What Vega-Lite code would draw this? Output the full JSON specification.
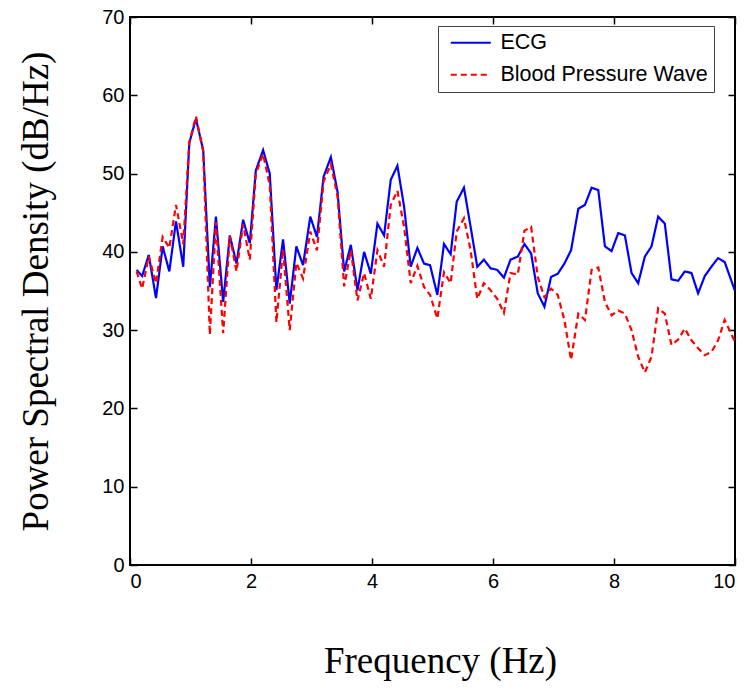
{
  "$schema": "https://vega.github.io/schema/vega-lite/v6.json",
  "width": 605,
  "height": 548,
  "autosize": {"type": "none"},
  "padding": {"left": 130, "top": 17, "right": 12, "bottom": 125},
  "background": "white",
  "config": {
    "view": {"stroke": "black", "strokeWidth": 2},
    "axis": {
      "grid": false,
      "domain": false,
      "ticks": true,
      "tickColor": "black",
      "tickWidth": 1.5,
      "tickSize": -7,
      "labelFont": "Liberation Sans",
      "labelFontSize": 20,
      "labelColor": "black",
      "titleFont": "Liberation Serif",
      "titleFontSize": 37,
      "titleFontWeight": "normal",
      "titleColor": "black"
    }
  },
  "datasets": {
    "psd": [
      {"f": 0.11, "db": 37.7, "series": "ECG"},
      {"f": 0.20, "db": 36.9, "series": "ECG"},
      {"f": 0.31, "db": 39.6, "series": "ECG"},
      {"f": 0.43, "db": 34.1, "series": "ECG"},
      {"f": 0.54, "db": 40.7, "series": "ECG"},
      {"f": 0.65, "db": 37.5, "series": "ECG"},
      {"f": 0.76, "db": 43.9, "series": "ECG"},
      {"f": 0.88, "db": 38.1, "series": "ECG"},
      {"f": 0.98, "db": 53.9, "series": "ECG"},
      {"f": 1.09, "db": 57.0, "series": "ECG"},
      {"f": 1.21, "db": 53.0, "series": "ECG"},
      {"f": 1.32, "db": 35.5, "series": "ECG"},
      {"f": 1.42, "db": 44.5, "series": "ECG"},
      {"f": 1.54, "db": 33.6, "series": "ECG"},
      {"f": 1.65, "db": 42.1, "series": "ECG"},
      {"f": 1.76, "db": 38.5, "series": "ECG"},
      {"f": 1.87, "db": 44.1, "series": "ECG"},
      {"f": 1.98, "db": 41.1, "series": "ECG"},
      {"f": 2.08, "db": 50.4, "series": "ECG"},
      {"f": 2.20, "db": 53.0, "series": "ECG"},
      {"f": 2.31, "db": 50.0, "series": "ECG"},
      {"f": 2.42, "db": 35.1, "series": "ECG"},
      {"f": 2.53, "db": 41.6, "series": "ECG"},
      {"f": 2.64, "db": 33.4, "series": "ECG"},
      {"f": 2.75, "db": 40.7, "series": "ECG"},
      {"f": 2.86, "db": 38.3, "series": "ECG"},
      {"f": 2.98, "db": 44.5, "series": "ECG"},
      {"f": 3.09, "db": 41.9, "series": "ECG"},
      {"f": 3.20, "db": 49.6, "series": "ECG"},
      {"f": 3.32, "db": 52.1, "series": "ECG"},
      {"f": 3.43, "db": 47.7, "series": "ECG"},
      {"f": 3.54, "db": 37.5, "series": "ECG"},
      {"f": 3.65, "db": 40.9, "series": "ECG"},
      {"f": 3.76, "db": 35.1, "series": "ECG"},
      {"f": 3.87, "db": 40.0, "series": "ECG"},
      {"f": 3.98, "db": 37.2, "series": "ECG"},
      {"f": 4.09, "db": 43.6, "series": "ECG"},
      {"f": 4.20, "db": 42.1, "series": "ECG"},
      {"f": 4.31, "db": 49.2, "series": "ECG"},
      {"f": 4.42, "db": 51.0, "series": "ECG"},
      {"f": 4.53, "db": 45.8, "series": "ECG"},
      {"f": 4.64, "db": 38.1, "series": "ECG"},
      {"f": 4.75, "db": 40.5, "series": "ECG"},
      {"f": 4.86, "db": 38.5, "series": "ECG"},
      {"f": 4.96, "db": 38.3, "series": "ECG"},
      {"f": 5.08, "db": 34.5, "series": "ECG"},
      {"f": 5.19, "db": 41.0, "series": "ECG"},
      {"f": 5.30, "db": 39.7, "series": "ECG"},
      {"f": 5.40, "db": 46.4, "series": "ECG"},
      {"f": 5.52, "db": 48.2, "series": "ECG"},
      {"f": 5.63, "db": 43.2, "series": "ECG"},
      {"f": 5.74, "db": 38.1, "series": "ECG"},
      {"f": 5.85, "db": 39.0, "series": "ECG"},
      {"f": 5.96, "db": 37.9, "series": "ECG"},
      {"f": 6.07, "db": 37.7, "series": "ECG"},
      {"f": 6.18, "db": 36.7, "series": "ECG"},
      {"f": 6.29, "db": 39.0, "series": "ECG"},
      {"f": 6.41, "db": 39.4, "series": "ECG"},
      {"f": 6.52, "db": 41.0, "series": "ECG"},
      {"f": 6.63, "db": 39.8, "series": "ECG"},
      {"f": 6.74, "db": 34.7, "series": "ECG"},
      {"f": 6.85, "db": 33.0, "series": "ECG"},
      {"f": 6.96, "db": 36.8, "series": "ECG"},
      {"f": 7.07, "db": 37.2, "series": "ECG"},
      {"f": 7.18, "db": 38.5, "series": "ECG"},
      {"f": 7.29, "db": 40.2, "series": "ECG"},
      {"f": 7.41, "db": 45.5, "series": "ECG"},
      {"f": 7.52, "db": 46.0, "series": "ECG"},
      {"f": 7.63, "db": 48.2, "series": "ECG"},
      {"f": 7.74, "db": 47.9, "series": "ECG"},
      {"f": 7.85, "db": 40.7, "series": "ECG"},
      {"f": 7.96, "db": 40.1, "series": "ECG"},
      {"f": 8.07, "db": 42.4, "series": "ECG"},
      {"f": 8.18, "db": 42.1, "series": "ECG"},
      {"f": 8.29, "db": 37.3, "series": "ECG"},
      {"f": 8.40, "db": 36.0, "series": "ECG"},
      {"f": 8.51, "db": 39.4, "series": "ECG"},
      {"f": 8.62, "db": 40.7, "series": "ECG"},
      {"f": 8.73, "db": 44.5, "series": "ECG"},
      {"f": 8.84, "db": 43.6, "series": "ECG"},
      {"f": 8.95, "db": 36.5, "series": "ECG"},
      {"f": 9.06, "db": 36.3, "series": "ECG"},
      {"f": 9.17, "db": 37.5, "series": "ECG"},
      {"f": 9.28, "db": 37.3, "series": "ECG"},
      {"f": 9.39, "db": 34.7, "series": "ECG"},
      {"f": 9.50, "db": 36.9, "series": "ECG"},
      {"f": 9.61, "db": 38.1, "series": "ECG"},
      {"f": 9.72, "db": 39.2, "series": "ECG"},
      {"f": 9.83, "db": 38.7, "series": "ECG"},
      {"f": 10.0, "db": 35.0, "series": "ECG"},
      {"f": 0.11, "db": 37.5, "series": "Blood Pressure Wave"},
      {"f": 0.20, "db": 35.3, "series": "Blood Pressure Wave"},
      {"f": 0.31, "db": 39.4, "series": "Blood Pressure Wave"},
      {"f": 0.43, "db": 36.0, "series": "Blood Pressure Wave"},
      {"f": 0.54, "db": 41.9, "series": "Blood Pressure Wave"},
      {"f": 0.65, "db": 40.5, "series": "Blood Pressure Wave"},
      {"f": 0.76, "db": 46.0, "series": "Blood Pressure Wave"},
      {"f": 0.88, "db": 41.0, "series": "Blood Pressure Wave"},
      {"f": 0.98, "db": 54.0, "series": "Blood Pressure Wave"},
      {"f": 1.09, "db": 57.3, "series": "Blood Pressure Wave"},
      {"f": 1.21, "db": 52.8, "series": "Blood Pressure Wave"},
      {"f": 1.32, "db": 29.4, "series": "Blood Pressure Wave"},
      {"f": 1.42, "db": 43.8, "series": "Blood Pressure Wave"},
      {"f": 1.54, "db": 29.6, "series": "Blood Pressure Wave"},
      {"f": 1.65, "db": 42.0, "series": "Blood Pressure Wave"},
      {"f": 1.76, "db": 37.5, "series": "Blood Pressure Wave"},
      {"f": 1.87, "db": 43.5, "series": "Blood Pressure Wave"},
      {"f": 1.98, "db": 39.0, "series": "Blood Pressure Wave"},
      {"f": 2.08, "db": 50.0, "series": "Blood Pressure Wave"},
      {"f": 2.20, "db": 52.5, "series": "Blood Pressure Wave"},
      {"f": 2.31, "db": 48.5, "series": "Blood Pressure Wave"},
      {"f": 2.42, "db": 31.0, "series": "Blood Pressure Wave"},
      {"f": 2.53, "db": 40.3, "series": "Blood Pressure Wave"},
      {"f": 2.64, "db": 30.0, "series": "Blood Pressure Wave"},
      {"f": 2.75, "db": 38.6, "series": "Blood Pressure Wave"},
      {"f": 2.86, "db": 36.6, "series": "Blood Pressure Wave"},
      {"f": 2.98, "db": 42.6, "series": "Blood Pressure Wave"},
      {"f": 3.09, "db": 40.2, "series": "Blood Pressure Wave"},
      {"f": 3.20, "db": 49.0, "series": "Blood Pressure Wave"},
      {"f": 3.32, "db": 51.2, "series": "Blood Pressure Wave"},
      {"f": 3.43, "db": 47.1, "series": "Blood Pressure Wave"},
      {"f": 3.54, "db": 35.6, "series": "Blood Pressure Wave"},
      {"f": 3.65, "db": 40.2, "series": "Blood Pressure Wave"},
      {"f": 3.76, "db": 33.8, "series": "Blood Pressure Wave"},
      {"f": 3.87, "db": 37.3, "series": "Blood Pressure Wave"},
      {"f": 3.98, "db": 34.0, "series": "Blood Pressure Wave"},
      {"f": 4.09, "db": 40.2, "series": "Blood Pressure Wave"},
      {"f": 4.20, "db": 38.1, "series": "Blood Pressure Wave"},
      {"f": 4.31, "db": 46.0, "series": "Blood Pressure Wave"},
      {"f": 4.42, "db": 47.8, "series": "Blood Pressure Wave"},
      {"f": 4.53, "db": 43.2, "series": "Blood Pressure Wave"},
      {"f": 4.64, "db": 36.0, "series": "Blood Pressure Wave"},
      {"f": 4.75, "db": 38.2, "series": "Blood Pressure Wave"},
      {"f": 4.86, "db": 35.5, "series": "Blood Pressure Wave"},
      {"f": 4.96, "db": 34.5, "series": "Blood Pressure Wave"},
      {"f": 5.08, "db": 31.5, "series": "Blood Pressure Wave"},
      {"f": 5.19, "db": 37.4, "series": "Blood Pressure Wave"},
      {"f": 5.30, "db": 36.0, "series": "Blood Pressure Wave"},
      {"f": 5.40, "db": 42.6, "series": "Blood Pressure Wave"},
      {"f": 5.52, "db": 44.3, "series": "Blood Pressure Wave"},
      {"f": 5.63, "db": 40.2, "series": "Blood Pressure Wave"},
      {"f": 5.74, "db": 34.0, "series": "Blood Pressure Wave"},
      {"f": 5.85, "db": 36.0, "series": "Blood Pressure Wave"},
      {"f": 5.96, "db": 35.1, "series": "Blood Pressure Wave"},
      {"f": 6.07, "db": 34.0, "series": "Blood Pressure Wave"},
      {"f": 6.18, "db": 32.2, "series": "Blood Pressure Wave"},
      {"f": 6.29, "db": 37.3, "series": "Blood Pressure Wave"},
      {"f": 6.41, "db": 37.1, "series": "Blood Pressure Wave"},
      {"f": 6.52, "db": 42.7, "series": "Blood Pressure Wave"},
      {"f": 6.63, "db": 43.2, "series": "Blood Pressure Wave"},
      {"f": 6.74, "db": 36.8, "series": "Blood Pressure Wave"},
      {"f": 6.85, "db": 34.2, "series": "Blood Pressure Wave"},
      {"f": 6.96, "db": 35.3, "series": "Blood Pressure Wave"},
      {"f": 7.07, "db": 34.5, "series": "Blood Pressure Wave"},
      {"f": 7.18, "db": 31.3, "series": "Blood Pressure Wave"},
      {"f": 7.29, "db": 26.2, "series": "Blood Pressure Wave"},
      {"f": 7.41, "db": 32.1, "series": "Blood Pressure Wave"},
      {"f": 7.52, "db": 31.3, "series": "Blood Pressure Wave"},
      {"f": 7.63, "db": 37.7, "series": "Blood Pressure Wave"},
      {"f": 7.74, "db": 38.0, "series": "Blood Pressure Wave"},
      {"f": 7.85, "db": 33.6, "series": "Blood Pressure Wave"},
      {"f": 7.96, "db": 31.9, "series": "Blood Pressure Wave"},
      {"f": 8.07, "db": 32.5, "series": "Blood Pressure Wave"},
      {"f": 8.18, "db": 32.1, "series": "Blood Pressure Wave"},
      {"f": 8.29, "db": 30.0, "series": "Blood Pressure Wave"},
      {"f": 8.40, "db": 26.6, "series": "Blood Pressure Wave"},
      {"f": 8.51, "db": 24.6, "series": "Blood Pressure Wave"},
      {"f": 8.62, "db": 26.6, "series": "Blood Pressure Wave"},
      {"f": 8.73, "db": 32.8, "series": "Blood Pressure Wave"},
      {"f": 8.84, "db": 32.1, "series": "Blood Pressure Wave"},
      {"f": 8.95, "db": 28.1, "series": "Blood Pressure Wave"},
      {"f": 9.06, "db": 28.8, "series": "Blood Pressure Wave"},
      {"f": 9.17, "db": 30.2, "series": "Blood Pressure Wave"},
      {"f": 9.28, "db": 28.7, "series": "Blood Pressure Wave"},
      {"f": 9.39, "db": 27.7, "series": "Blood Pressure Wave"},
      {"f": 9.50, "db": 26.8, "series": "Blood Pressure Wave"},
      {"f": 9.61, "db": 27.2, "series": "Blood Pressure Wave"},
      {"f": 9.72, "db": 28.7, "series": "Blood Pressure Wave"},
      {"f": 9.83, "db": 31.3, "series": "Blood Pressure Wave"},
      {"f": 10.0, "db": 28.5, "series": "Blood Pressure Wave"}
    ]
  },
  "data": {"name": "psd"},
  "layer": [
    {
      "mark": {"type": "line", "strokeWidth": 2.2, "clip": true},
      "encoding": {
        "x": {
          "field": "f", "type": "quantitative",
          "scale": {"domain": [0, 10], "nice": false},
          "axis": {"values": [0, 2, 4, 6, 8, 10], "title": "Frequency (Hz)", "labelPadding": 13, "titlePadding": 52, "titleX": 310}
        },
        "y": {
          "field": "db", "type": "quantitative",
          "scale": {"domain": [0, 70], "nice": false},
          "axis": {"values": [0, 10, 20, 30, 40, 50, 60, 70], "title": "Power Spectral Density (dB/Hz)", "labelPadding": 13, "titlePadding": 46}
        },
        "color": {
          "field": "series", "type": "nominal",
          "scale": {"domain": ["ECG", "Blood Pressure Wave"], "range": ["#0000ff", "#ff0000"]},
          "legend": {
            "title": null,
            "orient": "none",
            "legendX": 308,
            "legendY": 9,
            "strokeColor": "#444",
            "fillColor": "white",
            "padding": 6,
            "labelFont": "Liberation Sans",
            "labelFontSize": 21.5,
            "labelColor": "black",
            "symbolType": "M-4,0H4",
            "symbolSize": 100,
            "symbolStrokeWidth": 2.2,
            "symbolOffset": 16,
            "labelOffset": 19,
            "rowPadding": 9,
            "labelLimit": 320
          }
        },
        "strokeDash": {
          "field": "series", "type": "nominal",
          "scale": {"domain": ["ECG", "Blood Pressure Wave"], "range": [[1, 0], [6, 4]]},
          "legend": null
        },
        "detail": {"field": "series"}
      }
    },
    {
      "mark": {"type": "line", "opacity": 0},
      "encoding": {
        "x": {"field": "f", "type": "quantitative", "scale": {"domain": [0, 10], "nice": false},
              "axis": {"orient": "top", "values": [0, 2, 4, 6, 8, 10], "labels": false, "title": null}},
        "y": {"field": "db", "type": "quantitative", "scale": {"domain": [0, 70], "nice": false},
              "axis": {"orient": "right", "values": [0, 10, 20, 30, 40, 50, 60, 70], "labels": false, "title": null}},
        "detail": {"field": "series"}
      }
    }
  ],
  "resolve": {"axis": {"x": "independent", "y": "independent"}}
}
